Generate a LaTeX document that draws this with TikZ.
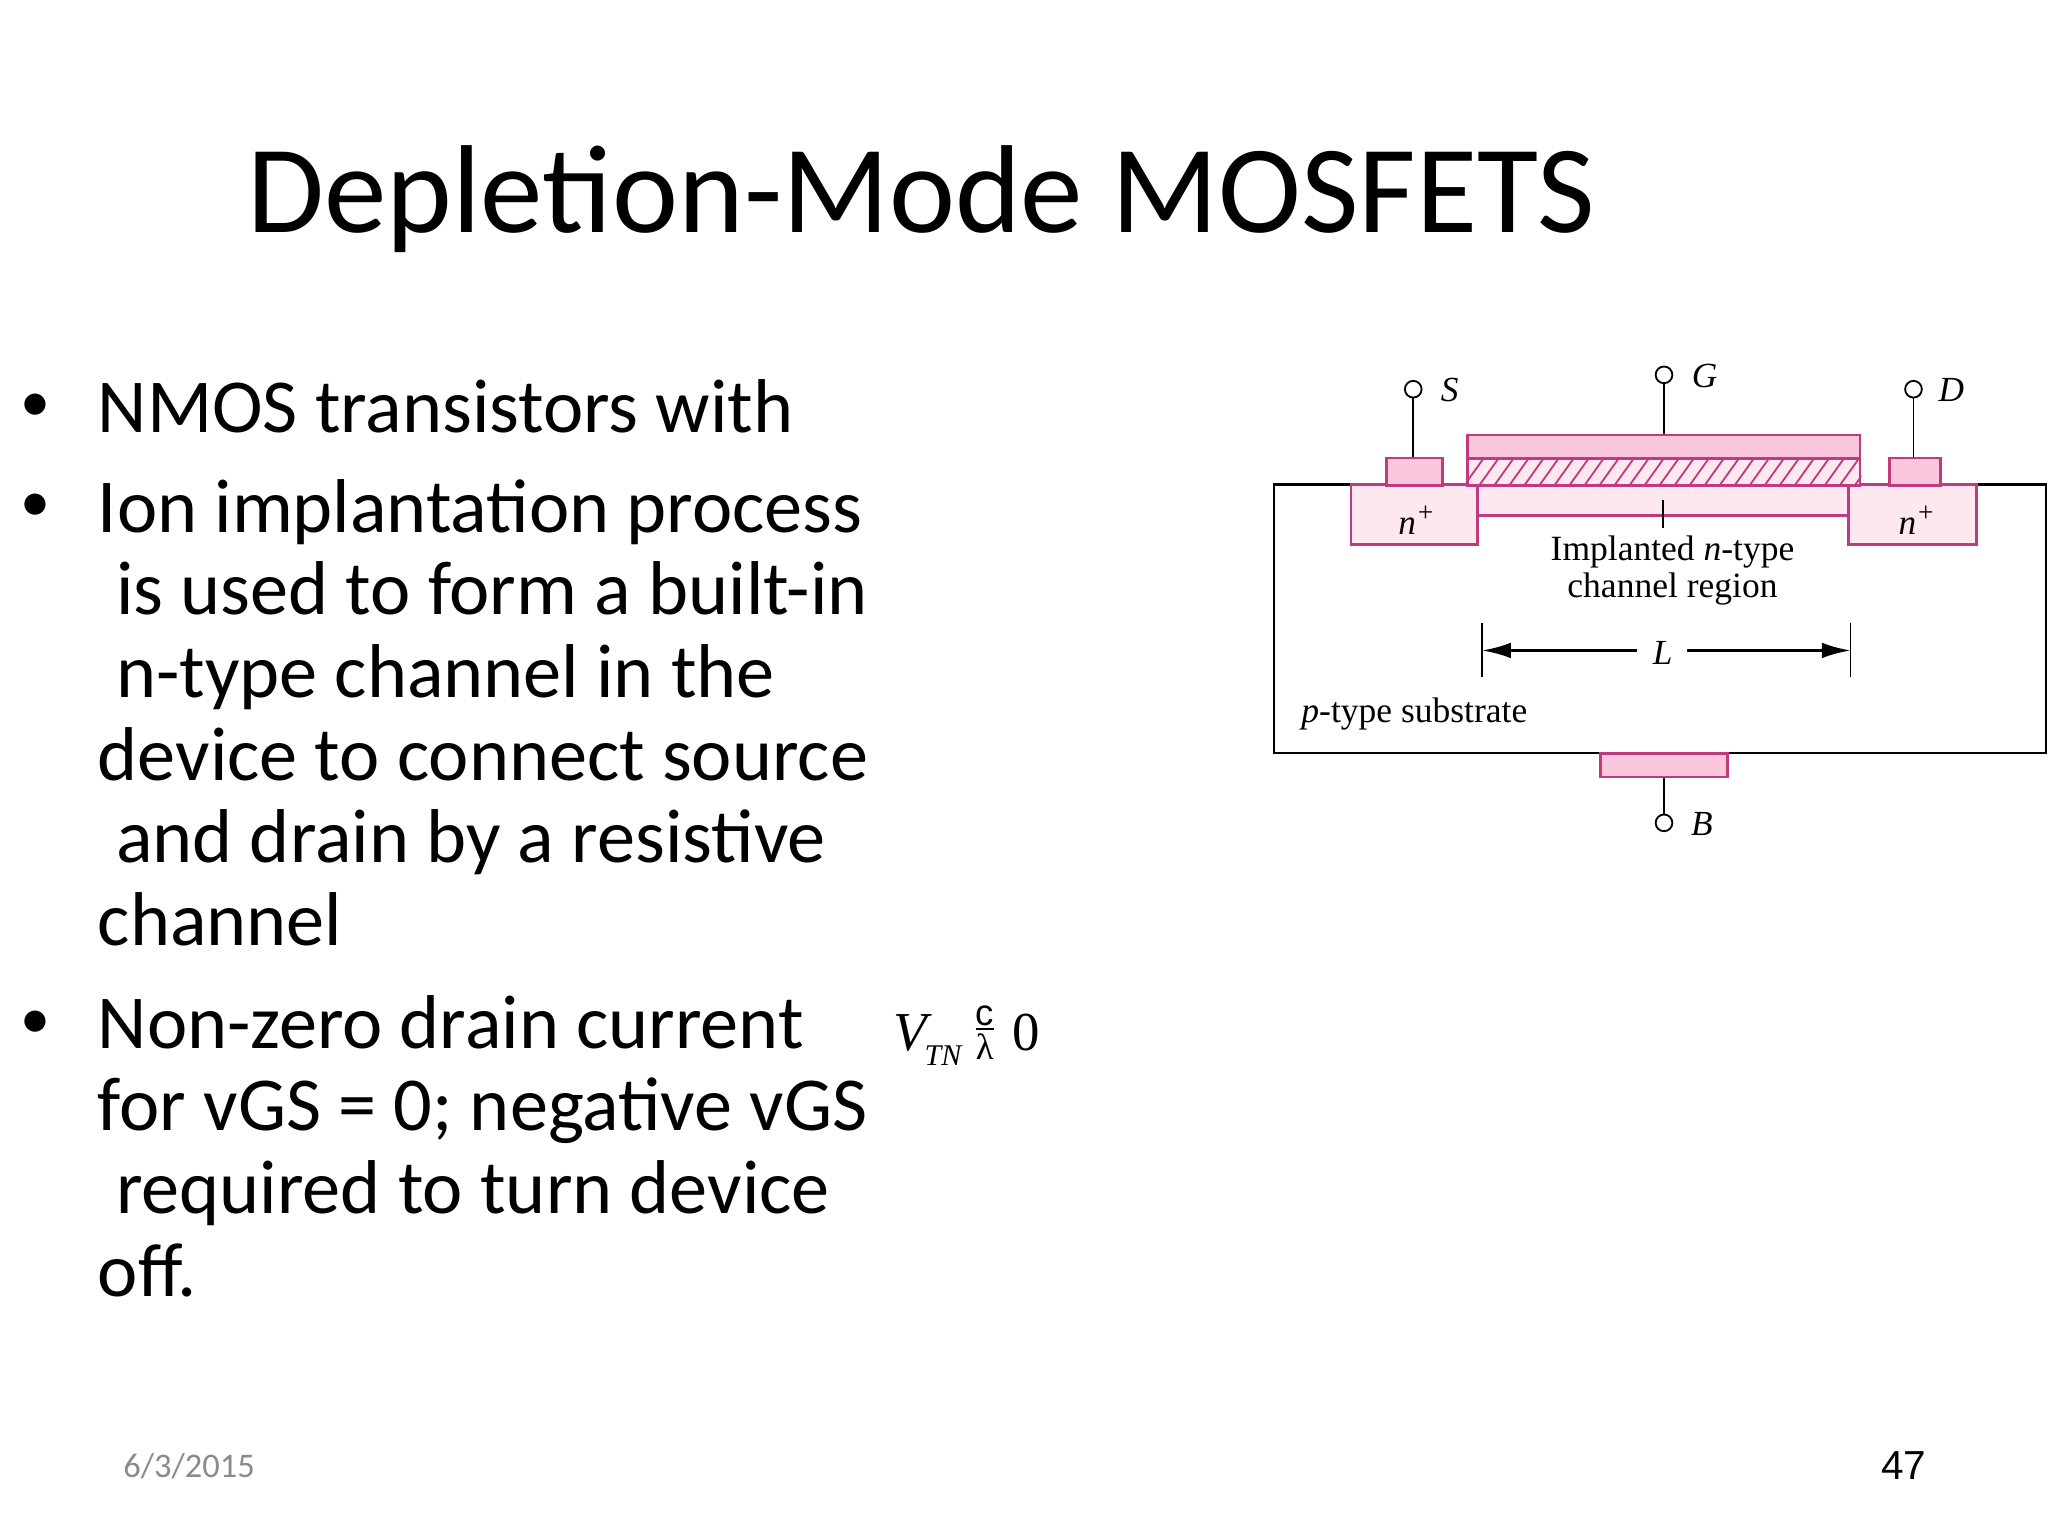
\documentclass[tikz,border=0pt]{standalone}
\usepackage{fontspec}
\usetikzlibrary{arrows.meta}
\setmainfont{Carlito}
\newfontfamily\timesfont{Liberation Serif}
\newfontfamily\arialfont{Liberation Sans}
\definecolor{padpink}{HTML}{FAC6DB}
\definecolor{lightpink}{HTML}{FDE8F0}
\definecolor{edgepink}{HTML}{C03A80}
\definecolor{dategray}{HTML}{8B8B8B}
\tikzset{
  slidetext/.style={anchor=north west, inner sep=0pt, align=left, font=\fontsize{29.2}{31.65}\selectfont},
  dot/.style={anchor=base, inner sep=0pt, font=\fontsize{23}{25}\selectfont},
  pad/.style={draw=edgepink, fill=padpink, line width=1pt, inner sep=0pt},
  implant/.style={draw=edgepink, fill=lightpink, line width=1pt, inner sep=0pt},
  terminal/.style={circle, draw, fill=white, line width=0.7pt, inner sep=0pt, minimum size=6.4pt},
  lead/.style={line width=0.7pt},
  termlabel/.style={inner sep=0pt, font=\timesfont\itshape\fontsize{13.5}{15}\selectfont},
  devtext/.style={inner sep=0pt, align=center, font=\timesfont\fontsize{13.6}{14}\selectfont},
}
\begin{document}
\begin{tikzpicture}[x=0.5pt,y=-0.5pt]
\useasboundingbox (0,0) rectangle (1568,1176);
% slide text
\node[anchor=base west, inner sep=0pt, font=\fontsize{47.9}{50}\selectfont] (title) at (189,178) {Depletion-Mode MOSFETS};
\node[dot] (b1) at (27,323) {•};
\node[dot] (b2) at (27,399) {•};
\node[dot] (b3) at (27,795) {•};
\node[slidetext] (t1) at (74.5,290) {NMOS transistors with};
\node[slidetext] (t2) at (74.5,366.5) {Ion implantation process\\
  \hspace*{7pt}is used to form a built-in\\
  \hspace*{7pt}n-type channel in the\\
  device to connect source\\
  \hspace*{7pt}and drain by a resistive\\
  channel};
\node[slidetext] (t3) at (74.5,761.5) {Non-zero drain current\\
  for vGS = 0; negative vGS\\
  \hspace*{7pt}required to turn device\\
  off.};
\node[anchor=base west, inner sep=0pt, text=dategray, font=\fontsize{13.2}{15}\selectfont] (date) at (94,1131) {6/3/2015};
\node[anchor=base west, inner sep=0pt, font=\arialfont\fontsize{15.5}{17}\selectfont] (num) at (1440,1133) {47};
% threshold condition
\node[anchor=base, inner sep=0pt, font=\timesfont\itshape\fontsize{21}{23}\selectfont] (vt) at (697,804) {V};
\node[anchor=base, inner sep=0pt, font=\timesfont\itshape\fontsize{11.5}{13}\selectfont] (tn) at (722,816) {TN};
\node[anchor=base, inner sep=0pt, font=\arialfont\fontsize{14}{16}\selectfont] (cc) at (753.5,785) {c};
\node[anchor=base, inner sep=0pt, font=\timesfont\fontsize{14}{16}\selectfont] (lam) at (754,811) {λ};
\draw[line width=0.6pt] (747,788) -- (761,788);
\node[anchor=base, inner sep=0pt, font=\timesfont\fontsize{21}{23}\selectfont] (zero) at (786,804) {0};
% substrate
\node[draw, line width=1pt, minimum width=295.5pt, minimum height=102.75pt, inner sep=0pt, anchor=north west] (sub) at (974.5,370) {};
% implants
\node[implant, minimum width=143.5pt, minimum height=11.75pt, anchor=north west] (chan) at (1130.2,370) {};
\node[implant, minimum width=48.5pt, minimum height=23pt, anchor=north west] (nl) at (1033.2,370) {};
\node[implant, minimum width=49pt, minimum height=23pt, anchor=north west] (nr) at (1414.2,370) {};
% gate stack
\node[pad, minimum width=150.2pt, minimum height=9pt, anchor=north west] (gate) at (1122.7,332) {};
\node[implant, minimum width=150.2pt, minimum height=10.25pt, anchor=north west] (oxide) at (1122.7,350) {};
\begin{scope}
\clip (oxide.south west) rectangle (oxide.north east);
\foreach \hx in {1110,1121.5,...,1430}
  \draw[edgepink, line width=0.7pt] (\hx,371) -- (\hx+15,350);
\end{scope}
\node[implant, fill=none, minimum width=150.2pt, minimum height=10.25pt, anchor=north west] at (1122.7,350) {};
% contacts
\node[pad, minimum width=21.4pt, minimum height=10.45pt, anchor=north west] (sc) at (1060.7,349.6) {};
\node[pad, minimum width=19.5pt, minimum height=10.45pt, anchor=north west] (dc) at (1445.7,349.6) {};
\node[pad, minimum width=48.7pt, minimum height=9pt, anchor=north west] (bc) at (1224.2,576) {};
% terminals
\node[terminal] (sterm) at (1082,298) {};
\node[terminal] (gterm) at (1274,287) {};
\node[terminal] (dterm) at (1465,298) {};
\node[terminal] (bterm) at (1274,630) {};
\draw[lead] (sterm) -- (sterm |- sc.north);
\draw[lead] (gterm) -- (gterm |- gate.north);
\draw[lead] (dterm) -- (dterm |- dc.north);
\draw[lead] (bterm) -- (bterm |- bc.south);
\node[termlabel] (slab) at (1110,298.5) {S};
\node[termlabel] (glab) at (1305,288) {G};
\node[termlabel] (dlab) at (1494,298.5) {D};
\node[termlabel] (blab) at (1303,631) {B};
% labels
\node[termlabel] (npl) at (1084.5,398) {\textit{n}\raisebox{0.8ex}{\fontsize{10.5}{11}\selectfont +}};
\node[termlabel] (npr) at (1467.5,398) {\textit{n}\raisebox{0.8ex}{\fontsize{10.5}{11}\selectfont +}};
\coordinate (tickt) at (1273,383);
\coordinate (tickb) at (1273,404.5);
\draw[lead] (tickt) -- (tickb);
\node[devtext] (impl) at (1280.5,437) {Implanted \textit{n}-type\\channel region};
% length
\coordinate (ll) at (1134.8,498);
\coordinate (lr) at (1416.8,498);
\node[termlabel] (len) at (1273,500) {L};
\draw[line width=1pt,-{Latex[length=11pt,width=6pt]}] (1253,498) -- (ll);
\draw[line width=1pt,-{Latex[length=11pt,width=6pt]}] (1291.6,498) -- (lr);
\draw[lead] (1134.8,476.7) -- (1134.8,518.6);
\draw[lead] (1416.8,476.7) -- (1416.8,518.6);
\node[devtext, anchor=base west] (ptype) at (996,553.5) {\textit{p}-type substrate};
\end{tikzpicture}
\end{document}
